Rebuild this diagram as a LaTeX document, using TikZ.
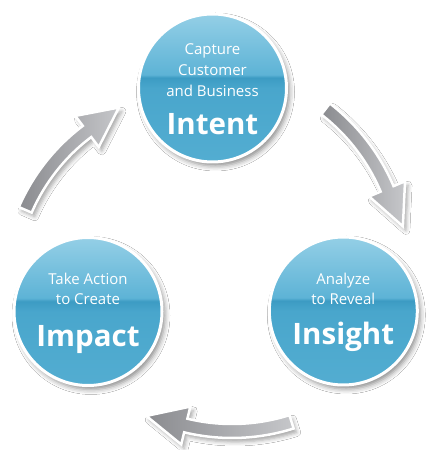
\documentclass[tikz,border=0pt]{standalone}
\usepackage{fontspec}
\setmainfont{Open Sans}
\usetikzlibrary{shadows.blur}

\definecolor{captop}{HTML}{94CFE6}
\definecolor{caphigh}{HTML}{5DB3D6}
\definecolor{capband}{HTML}{3C9BC3}
\definecolor{capmid}{HTML}{49A6CC}
\definecolor{capbot}{HTML}{53ADD1}
\definecolor{arrowdark}{HTML}{8A8B8F}
\definecolor{arrowlight}{HTML}{C6C7CA}

\pgfdeclareverticalshading{gloss}{100bp}{color(0bp)=(capbot); color(25bp)=(capbot);
  color(50bp)=(capmid); color(53.5bp)=(capband); color(54.5bp)=(caphigh);
  color(75bp)=(captop); color(100bp)=(captop)}

\tikzset{
  bubble/.style={circle, minimum size=148pt, inner sep=0pt, draw=white, line width=3pt,
    shading=gloss,
    blur shadow={shadow xshift=3pt, shadow yshift=-4pt, shadow blur radius=5pt, shadow opacity=45}},
  subtext/.style={anchor=base, inner sep=0pt, text=white, font=\fontsize{15}{18}\selectfont},
  keyword/.style={anchor=base, inner sep=0pt, text=white, font=\fontsize{29.5}{36}\selectfont\bfseries},
  arrowbody/.style={draw=white, line width=2.5pt, line join=miter,
    left color=arrowdark, right color=arrowlight,
    blur shadow={shadow xshift=3pt, shadow yshift=-4pt, shadow blur radius=4pt, shadow opacity=35}}
}

% #1 centre, #2 radius, #3 tail angle, #4 head base angle, #5 tip angle
\newcommand{\bentarrow}[5]{%
  \filldraw[arrowbody] ([shift={(#1)}]#3:{#2+7}) arc[start angle=#3, end angle=#4, radius={#2+7}]
    -- ([shift={(#1)}]#4:{#2+19.5}) -- ([shift={(#1)}]#5:{#2+4}) -- ([shift={(#1)}]#4:{#2-19.5})
    -- ([shift={(#1)}]#4:{#2-7}) arc[start angle=#4, end angle=#3, radius={#2-7}] -- cycle;}

\begin{document}
\begin{tikzpicture}[x=1pt, y=1pt]
  \useasboundingbox (0,0) rectangle (426,450);
  \fill[white] (0,0) rectangle (426,450);

  % Define nodes
  \node[bubble] (intent)  at (212.5,362) {};
  \node[bubble] (impact)  at (88,138.5)  {};
  \node[bubble] (insight) at (343.3,139) {};

  \node[subtext] (intent1)  at ([yshift=33pt]intent.center)    {Capture};
  \node[subtext] (intent2)  at ([yshift=12pt]intent.center)    {Customer};
  \node[subtext] (intent3)  at ([yshift=-9pt]intent.center)    {and Business};
  \node[keyword] (intentw)  at ([yshift=-47pt]intent.center)   {Intent};

  \node[subtext] (impact1)  at ([yshift=26.5pt]impact.center)  {Take Action};
  \node[subtext] (impact2)  at ([yshift=6.5pt]impact.center)   {to Create};
  \node[keyword] (impactw)  at ([yshift=-35.5pt]impact.center) {Impact};

  \node[subtext] (insight1) at ([yshift=26pt]insight.center)   {Analyze};
  \node[subtext] (insight2) at ([yshift=6pt]insight.center)    {to Reveal};
  \node[keyword] (insightw) at ([yshift=-34pt]insight.center)  {Insight};

  % Arrow centres
  \coordinate (c1) at (205,162);
  \coordinate (c2) at (203,183);
  \coordinate (c3) at (232,217);

  % Draw the arrows
  \bentarrow{c1}{196}{156.5}{127}{115.5}
  \bentarrow{c2}{200}{52.2}{23}{11.5}
  \bentarrow{c3}{198}{287.5}{256.5}{244.9}
\end{tikzpicture}
\end{document}
